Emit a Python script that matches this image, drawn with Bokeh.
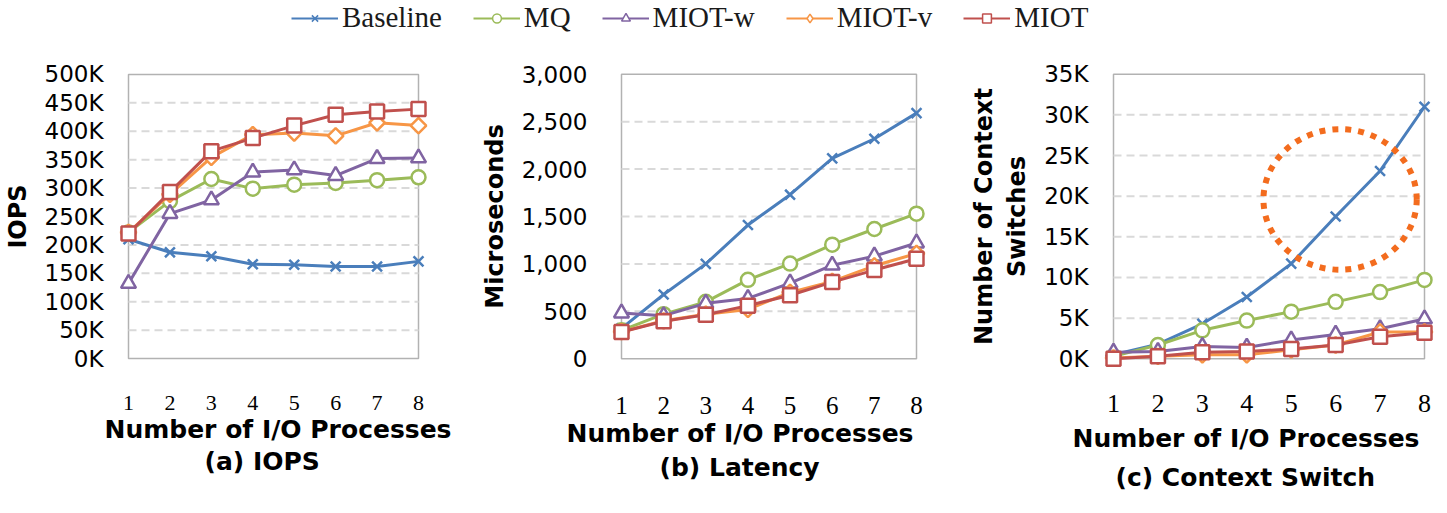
import math
from bokeh.plotting import figure
from bokeh.layouts import column, row
from bokeh.models import Range1d, FixedTicker, Title, Legend, LegendItem, BoxAnnotation
from bokeh.embed import file_html
from bokeh.resources import INLINE

# ---------------- data ----------------
x_procs = [1, 2, 3, 4, 5, 6, 7, 8]
series_names = ["Baseline", "MQ", "MIOT-w", "MIOT-v", "MIOT"]

# (a) IOPS, in thousands
iops_baseline = [210, 187, 180, 166, 165, 162, 162, 171]
iops_mq = [222, 277, 316, 299, 306, 309, 314, 319]
iops_miot_w = [132, 255, 279, 328, 332, 322, 352, 353]
iops_miot_v = [222, 289, 354, 394, 397, 392, 415, 410]
iops_miot = [220, 293, 365, 388, 410, 429, 435, 439]
iops_ticks = [0, 50, 100, 150, 200, 250, 300, 350, 400, 450, 500]
iops_tick_labels = ["0K", "50K", "100K", "150K", "200K", "250K", "300K", "350K", "400K", "450K", "500K"]

# (b) Latency, microseconds
lat_baseline = [320, 677, 1000, 1410, 1730, 2113, 2320, 2590]
lat_mq = [300, 470, 600, 832, 1003, 1203, 1368, 1530]
lat_miot_w = [481, 454, 584, 636, 797, 986, 1082, 1220]
lat_miot_v = [285, 400, 470, 520, 700, 815, 980, 1110]
lat_miot = [282, 395, 464, 560, 670, 808, 935, 1055]
lat_ticks = [0, 500, 1000, 1500, 2000, 2500, 3000]
lat_tick_labels = ["0", "500", "1,000", "1,500", "2,000", "2,500", "3,000"]

# (c) Context switches, in thousands
cs_baseline = [0.5, 1.8, 4.3, 7.6, 11.7, 17.5, 23.1, 31.0]
cs_mq = [0.3, 1.7, 3.5, 4.7, 5.8, 7.0, 8.2, 9.7]
cs_miot_w = [0.8, 0.9, 1.5, 1.4, 2.3, 3.0, 3.7, 4.9]
cs_miot_v = [0.1, 0.3, 0.5, 0.5, 1.1, 1.7, 3.3, 3.3]
cs_miot = [0.0, 0.3, 0.8, 0.9, 1.2, 1.7, 2.7, 3.2]
cs_ticks = [0, 5, 10, 15, 20, 25, 30, 35]
cs_tick_labels = ["0K", "5K", "10K", "15K", "20K", "25K", "30K", "35K"]

# highlight ellipse on panel (c)
highlight_x = 6.1
highlight_y = 19.6
highlight_w = 3.45
highlight_h = 17.3

# ---------------- styles ----------------
colors = ["#4A7EBB", "#9BBB59", "#8064A2", "#F79646", "#C0504D"]
markers = ["x", "circle", "triangle", "square", "square"]
legend_markers = ["x", "circle", "triangle", "diamond", "square"]
angles = [0, 0, 0, math.pi / 4, 0]
msizes = [14, 14, 15, 11, 14]

SANS = "DejaVu Sans"
SERIF = "Liberation Serif"
LEG_H = 40
FIG_H = 513 - LEG_H
PAD = 10  # room around the plot box so edge markers are not clipped


def make_panel(series, ticks, tick_labels, y_max, ylabel, fig_x0, fig_w,
               box_l, box_r, box_t, box_b, ytick_std, xtick_size, xtick_std,
               title1_off, title2, title2_off, title_gap, title2_gap):
    box_w = box_r - box_l
    box_h = box_b - box_t
    dx = 7.0 * PAD / box_w
    dy = y_max * PAD / box_h
    p = figure(width=fig_w, height=FIG_H,
               x_range=Range1d(1 - dx, 8 + dx), y_range=Range1d(-dy, y_max + dy),
               output_backend="svg", toolbar_location=None,
               min_border_left=box_l - PAD - fig_x0,
               min_border_right=fig_x0 + fig_w - (box_r + PAD),
               min_border_top=box_t - PAD - LEG_H,
               min_border_bottom=513 - (box_b + PAD))
    p.background_fill_color = "white"
    p.border_fill_color = "white"
    p.outline_line_color = None

    p.xaxis.ticker = FixedTicker(ticks=x_procs)
    p.yaxis.ticker = FixedTicker(ticks=ticks)
    p.yaxis.major_label_overrides = {t: l for t, l in zip(ticks, tick_labels)}
    for ax in (p.xaxis, p.yaxis):
        ax.axis_line_color = None
        ax.major_tick_line_color = None
        ax.minor_tick_line_color = None
        ax.major_tick_in = 0
        ax.major_tick_out = 0
    p.yaxis.major_label_text_font = SANS
    p.yaxis.major_label_text_font_size = "23px"
    p.yaxis.major_label_text_color = "black"
    p.yaxis.major_label_standoff = ytick_std - PAD
    p.yaxis.axis_label = ylabel
    p.yaxis.axis_label_text_font = SANS
    p.yaxis.axis_label_text_font_style = "bold"
    p.yaxis.axis_label_text_font_size = "24px"
    p.yaxis.axis_label_text_color = "black"
    p.yaxis.axis_label_standoff = 10

    p.xaxis.major_label_text_font = SERIF
    p.xaxis.major_label_text_font_size = xtick_size
    p.xaxis.major_label_text_color = "black"
    p.xaxis.major_label_standoff = xtick_std - PAD

    p.grid.visible = False
    inner = [t for t in ticks if 0 < t < y_max]
    p.segment(x0=[1] * len(inner), x1=[8] * len(inner), y0=inner, y1=inner,
              line_color="#D9D9D9", line_width=2, line_dash="8 5")
    p.add_layout(BoxAnnotation(left=1, right=8, bottom=0, top=y_max, fill_alpha=0,
                               line_color="black", line_width=1.5, level="underlay"))

    for vals, color, mk, ang, ms in zip(series, colors, markers, angles, msizes):
        p.line(x_procs, vals, line_color=color, line_width=3)
        p.scatter(x_procs, vals, marker=mk, size=ms, angle=ang, fill_color="white",
                  line_color=color, line_width=2.5)

    t1 = Title(text="Number of I/O Processes", align="left", offset=title1_off + PAD,
               text_font=SANS, text_font_style="bold", text_font_size="25px",
               text_color="black", standoff=title_gap)
    t2 = Title(text=title2, align="left", offset=title2_off + PAD,
               text_font=SANS, text_font_style="bold", text_font_size="25px",
               text_color="black", standoff=title2_gap)
    p.add_layout(t1, "below")
    p.add_layout(t2, "below")
    return p


pa = make_panel([iops_baseline, iops_mq, iops_miot_w, iops_miot_v, iops_miot],
                iops_ticks, iops_tick_labels, 500, "IOPS",
                0, 475, 128, 418, 73, 358, 25, "22px", 37,
                -24, "(a) IOPS", 76, 1, 0)

pb = make_panel([lat_baseline, lat_mq, lat_miot_w, lat_miot_v, lat_miot],
                lat_ticks, lat_tick_labels, 3000, "Microseconds",
                475, 490, 621, 916, 74, 365, 34, "25px", 38,
                -55, "(b) Latency", 38, 0, 7)

pc = make_panel([cs_baseline, cs_mq, cs_miot_w, cs_miot_v, cs_miot],
                cs_ticks, cs_tick_labels, 35, "Number of Context\nSwitches",
                965, 482, 1113, 1424, 74, 367, 25, "26px", 36,
                -41, "(c) Context Switch", 2, 15, 0)

pc.ellipse(x=[highlight_x], y=[highlight_y], width=highlight_w, height=highlight_h,
           fill_color=None, line_color="#F36C1E", line_width=6, line_dash="6 7")

# ---------------- legend strip ----------------
lf = figure(width=1447, height=LEG_H, output_backend="svg", toolbar_location=None,
            x_range=Range1d(0, 1), y_range=Range1d(0, 1),
            x_axis_location=None, y_axis_location=None, min_border=0)
lf.outline_line_color = None
lf.grid.visible = False
items = []
for name, color, mk in zip(series_names, colors, legend_markers):
    r1 = lf.line(x=[-10, -9], y=[-10, -9], line_color=color, line_width=2)
    r2 = lf.scatter(x=[-10], y=[-10], marker=mk, size=8, fill_color="white",
                    line_color=color, line_width=1.5)
    items.append(LegendItem(label=name, renderers=[r1, r2]))
leg = Legend(items=items, orientation="horizontal", location=(291, 6),
             glyph_width=47, glyph_height=22, label_standoff=4, spacing=31,
             padding=0, margin=0, border_line_color=None, background_fill_alpha=0,
             label_text_font=SERIF, label_text_font_size="29px", label_text_color="#1a1a1a")
lf.add_layout(leg)

layout = column(lf, row(pa, pb, pc, spacing=0), spacing=0)
open("out.html", "w").write(file_html(layout, INLINE))
